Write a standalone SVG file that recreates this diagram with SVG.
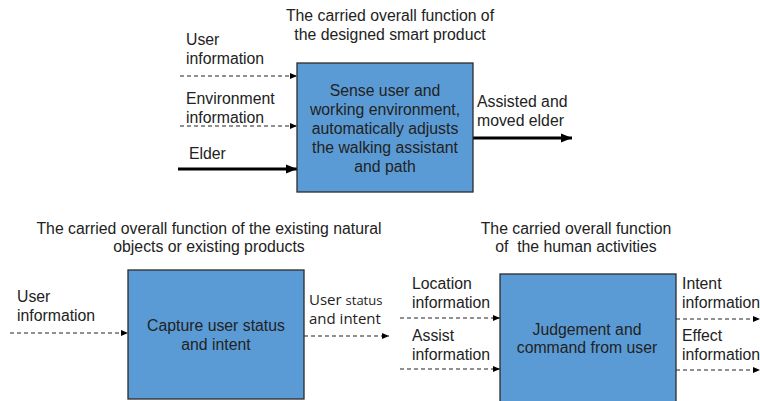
<svg xmlns="http://www.w3.org/2000/svg" width="760" height="401" viewBox="0 0 760 401">
  <style>
    .txt { font-family: "Liberation Sans", Arial, sans-serif; font-size: 15.8px; fill: #222; }
    .mid { text-anchor: middle; }
    .alt { font-family: "Open Sans", "Liberation Sans", sans-serif; font-size: 15px; fill: #222; }
    .small { font-family: "Open Sans", "Liberation Sans", sans-serif; font-size: 13px; fill: #222; }
    .box { fill: #5B9BD5; stroke: #2b2b2b; stroke-width: 1.3; }
    .dash { stroke: #222; stroke-width: 1.2; stroke-dasharray: 4 3; fill: none; marker-end: url(#headSmall); }
    .solid { stroke: #000; stroke-width: 3; fill: none; marker-end: url(#headBig); }
  </style>
  <defs>
    <marker id="headSmall" markerWidth="8" markerHeight="8" refX="7" refY="4" orient="auto" markerUnits="userSpaceOnUse">
      <path d="M0,1 L7,4 L0,7 Z" fill="#000"/>
    </marker>
    <marker id="headBig" markerWidth="12" markerHeight="12" refX="11" refY="6" orient="auto" markerUnits="userSpaceOnUse">
      <path d="M0,1.5 L11,6 L0,10.5 Z" fill="#000"/>
    </marker>
  </defs>
  <rect width="760" height="401" fill="#fff"/>

  <!-- connectors -->
  <g id="connectors">
    <line class="dash" x1="180" y1="76" x2="297" y2="76"/>
    <line class="dash" x1="180" y1="126" x2="297" y2="126"/>
    <line class="solid" x1="178" y1="169" x2="297" y2="169"/>
    <line class="solid" x1="473" y1="138" x2="572" y2="138"/>

    <line class="dash" x1="10" y1="333" x2="128" y2="333"/>
    <line class="dash" x1="304" y1="336" x2="389" y2="336"/>

    <line class="dash" x1="400" y1="318" x2="500" y2="318"/>
    <line class="dash" x1="400" y1="369" x2="500" y2="369"/>
    <line class="dash" x1="676" y1="319" x2="760" y2="319"/>
    <line class="dash" x1="676" y1="370" x2="760" y2="370"/>
  </g>

  <!-- designed smart product -->
  <g id="smart-product">
    <text class="txt mid" x="390" y="21">The carried overall function of</text>
    <text class="txt mid" x="390" y="40">the designed smart product</text>
    <rect class="box" x="297" y="63" width="176" height="129"/>
    <text class="txt mid" x="385" y="96">Sense user and</text>
    <text class="txt mid" x="385" y="115">working environment,</text>
    <text class="txt mid" x="385" y="134">automatically adjusts</text>
    <text class="txt mid" x="385" y="153">the walking assistant</text>
    <text class="txt mid" x="385" y="172">and path</text>
    <text class="txt" x="186" y="45">User</text>
    <text class="txt" x="186" y="64">information</text>
    <text class="txt" x="186" y="104">Environment</text>
    <text class="txt" x="186" y="123">information</text>
    <text class="txt" x="189" y="159">Elder</text>
    <text class="txt" x="477" y="107">Assisted and</text>
    <text class="txt" x="477" y="126">moved elder</text>
  </g>

  <!-- existing natural objects or products -->
  <g id="existing-products">
    <text class="txt mid" x="209" y="234">The carried overall function of the existing natural</text>
    <text class="txt mid" x="209" y="252">objects or existing products</text>
    <rect class="box" x="128" y="270" width="176" height="129"/>
    <text class="txt mid" x="216" y="331">Capture user status</text>
    <text class="txt mid" x="216" y="350">and intent</text>
    <text class="txt" x="17" y="302">User</text>
    <text class="txt" x="17" y="321">information</text>
    <text x="309" y="305"><tspan class="alt">User </tspan><tspan class="small">status</tspan></text>
    <text class="alt" x="309" y="324">and intent</text>
  </g>

  <!-- human activities -->
  <g id="human-activities">
    <text class="txt mid" x="576" y="234">The carried overall function</text>
    <text class="txt mid" x="576" y="252" xml:space="preserve">of  the human activities</text>
    <rect class="box" x="500" y="274" width="176" height="129"/>
    <text class="txt mid" x="587" y="335">Judgement and</text>
    <text class="txt mid" x="587" y="353">command from user</text>
    <text class="txt" x="412" y="289">Location</text>
    <text class="txt" x="412" y="308">information</text>
    <text class="txt" x="412" y="341">Assist</text>
    <text class="txt" x="412" y="360">information</text>
    <text class="txt" x="682" y="289">Intent</text>
    <text class="txt" x="682" y="308">information</text>
    <text class="txt" x="682" y="341">Effect</text>
    <text class="txt" x="682" y="360">information</text>
  </g>
</svg>
